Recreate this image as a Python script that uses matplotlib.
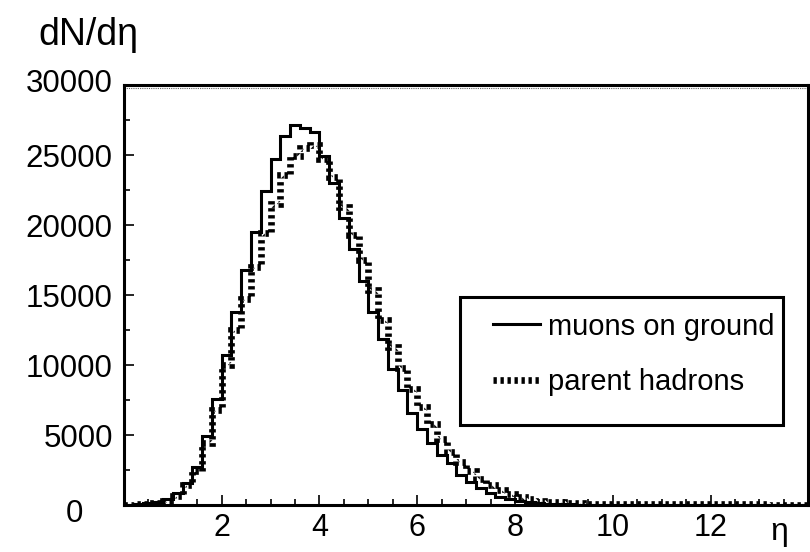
import numpy as np
import matplotlib
matplotlib.use("Agg")
import matplotlib.pyplot as plt
import matplotlib.transforms as mtransforms
from matplotlib.lines import Line2D
from matplotlib.patches import Rectangle
from matplotlib.ticker import MultipleLocator

plt.rcParams['font.family'] = ['Liberation Sans', 'DejaVu Sans']

# eta histogram, 70 bins of width 0.2 from 0 to 14
eta_edges = np.linspace(0.0, 14.0, 71)

muons = [
    30, 80, 150, 250, 450, 850, 1550, 2750, 4900, 7600,
    10700, 13800, 16800, 19500, 22400, 24700, 26350, 27150, 26900, 26650,
    24900, 23000, 20500, 18300, 16000, 13800, 11850, 9750, 8200, 6550,
    5400, 4400, 3570, 2980, 2140, 1670, 1190, 830, 600, 400,
    280, 200, 140, 100, 70, 50, 40, 30, 25, 20,
    15, 12, 10, 10, 8, 8, 6, 6, 5, 5,
    4, 4, 3, 3, 2, 2, 2, 1, 1, 1,
]

hadrons = [
    20, 50, 100, 180, 320, 620, 1400, 2400, 4400, 6800,
    10000, 12500, 14700, 17000, 19400, 21500, 23600, 24900, 25500, 25700,
    24700, 23450, 21300, 19300, 17500, 15350, 13200, 11300, 9800, 8300,
    7000, 5800, 4700, 3800, 3050, 2400, 1850, 1400, 1050, 780,
    560, 420, 320, 250, 200, 160, 130, 110, 95, 85,
    80, 75, 70, 70, 65, 65, 60, 60, 55, 55,
    50, 50, 50, 45, 45, 45, 40, 40, 40, 40,
]

labels = ['muons on ground', 'parent hadrons']

dot_style = (0, (0.5, 0.55))

fig = plt.figure(figsize=(8.1, 5.52), dpi=100)
ax = fig.add_axes([0.153, 0.085, 0.845, 0.761])

ax.stairs(muons, eta_edges, color='black', lw=2.2)
ax.stairs(hadrons, eta_edges, color='black', lw=4.8, linestyle=dot_style)

ax.set_xlim(0, 14)
ax.set_ylim(0, 30000)

# thin dotted line just under the top frame
ax.plot([0, 1], [0.994, 0.994], transform=ax.transAxes, color='0.4',
        lw=0.8, linestyle=(0, (1, 1)))

for side in ['left', 'right', 'top', 'bottom']:
    ax.spines[side].set_linewidth(2.2)

ax.xaxis.set_major_locator(MultipleLocator(2))
ax.xaxis.set_minor_locator(MultipleLocator(0.5))
ax.yaxis.set_major_locator(MultipleLocator(5000))
ax.yaxis.set_minor_locator(MultipleLocator(2500))
ax.tick_params(which='both', direction='in', width=1.2)
ax.tick_params(which='major', length=7)
ax.tick_params(which='minor', length=4.5)
ax.tick_params(axis='x', labelsize=22, pad=6)
ax.tick_params(axis='y', labelsize=22.5, pad=8)
ax.set_xticks([2, 4, 6, 8, 10, 12])
ax.set_yticks([0, 5000, 10000, 15000, 20000, 25000, 30000])


def shift(dx_px, dy_px):
    return mtransforms.ScaledTranslation(dx_px / 100, dy_px / 100, fig.dpi_scale_trans)


# end labels on the y axis sit off their ticks
yt = ax.yaxis.get_major_ticks()
yt[0].label1.set_transform(yt[0].label1.get_transform() + shift(-30, -5))
yt[-1].label1.set_transform(yt[-1].label1.get_transform() + shift(0, 5))

ax.set_xlabel('η', fontsize=23, va='bottom', ha='center')
ax.xaxis.set_label_coords(0.958, -0.1)
ax.set_ylabel('dN/dη', fontsize=27, rotation=0, ha='center', va='center')
ax.yaxis.set_label_coords(-0.052, 1.12)

# legend: entries without frame plus a drawn box
handles = [
    Line2D([0], [0], color='black', lw=2.2),
    Line2D([0], [0], color='black', lw=4.8, linestyle=dot_style),
]
leg = ax.legend(handles, labels, loc='upper left',
                bbox_to_anchor=(0.522, 0.486), frameon=False,
                fontsize=21, handlelength=1.6, handletextpad=0.3,
                labelspacing=0.95, borderaxespad=0)
ax.add_patch(Rectangle((0.491, 0.190), 0.472, 0.305, transform=ax.transAxes,
                       fill=False, edgecolor='black', lw=2.2, zorder=5))

fig.savefig('out.png', dpi=100)
